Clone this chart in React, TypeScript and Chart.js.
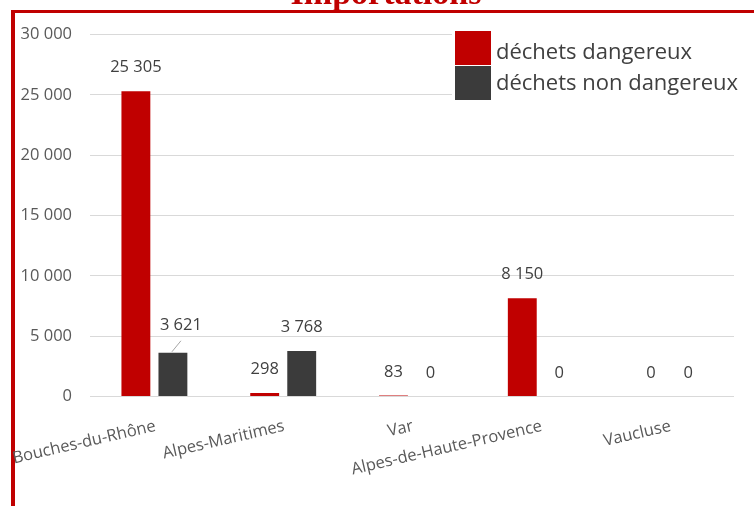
import React, { useEffect, useRef } from "react";
import { Chart, registerables } from "chart.js";

Chart.register(...registerables);

const categories = ["Bouches-du-Rhône", "Alpes-Maritimes", "Var", "Alpes-de-Haute-Provence", "Vaucluse"];
const dangereux = [25305, 298, 83, 8150, 0];
const nonDangereux = [3621, 3768, 0, 0, 0];
const seriesNames = ["déchets dangereux", "déchets non dangereux"];
const seriesColors = ["#C00000", "#3B3B3B"];
const yTicks = [0, 5000, 10000, 15000, 20000, 25000, 30000];
const titleText = "Importations";

const fmt = (v: number) => String(v).replace(/\B(?=(\d{3})+(?!\d))/g, " ");
const FONT = "'Open Sans', 'Liberation Sans', sans-serif";

const decorPlugin = {
  id: "decor",
  beforeDraw(chart: any) {
    const ctx = chart.ctx;
    ctx.save();
    ctx.fillStyle = "#FFFFFF";
    ctx.fillRect(0, 0, chart.width, chart.height);
    ctx.restore();
  },
  afterDraw(chart: any) {
    const ctx = chart.ctx;
    const xScale = chart.scales.x;
    ctx.save();
    // border
    ctx.fillStyle = "#C00000";
    ctx.fillRect(11, 10, 4, chart.height - 10);
    ctx.fillRect(11, 10, chart.width - 11, 3);
    // title (cut off at top)
    ctx.font = `bold 34px 'Liberation Serif', 'DejaVu Serif', serif`;
    ctx.textAlign = "center";
    ctx.textBaseline = "alphabetic";
    ctx.fillStyle = "#C00000";
    ctx.fillText(titleText, 386, 4);
    // x labels
    ctx.font = `16.5px ${FONT}`;
    ctx.fillStyle = "#595959";
    ctx.textAlign = "right";
    ctx.textBaseline = "middle";
    categories.forEach((c, i) => {
      const x = xScale.getPixelForTick(i);
      ctx.save();
      ctx.translate(x + 1, 426);
      ctx.rotate((-13 * Math.PI) / 180);
      ctx.fillText(c, 0, 0);
      ctx.restore();
    });
    // data labels
    ctx.font = `16.5px ${FONT}`;
    ctx.fillStyle = "#404040";
    ctx.textAlign = "center";
    ctx.textBaseline = "middle";
    chart.data.datasets.forEach((ds: any, di: number) => {
      const meta = chart.getDatasetMeta(di);
      meta.data.forEach((el: any, i: number) => {
        const v = ds.data[i];
        if (di === 1 && i === 0) {
          ctx.save();
          ctx.strokeStyle = "#A6A6A6";
          ctx.lineWidth = 1;
          ctx.beginPath();
          ctx.moveTo(el.x - 1, el.y - 1);
          ctx.lineTo(el.x + 8, el.y - 12);
          ctx.stroke();
          ctx.restore();
          ctx.fillText(fmt(v), el.x + 8, el.y - 28);
        } else {
          ctx.fillText(fmt(v), el.x, el.y - 23.5);
        }
      });
    });
    // legend
    ctx.fillStyle = "#FFFFFF";
    ctx.fillRect(452, 28, chart.width - 452, 76);
    seriesNames.forEach((n, i) => {
      ctx.fillStyle = seriesColors[i];
      ctx.fillRect(455, 31 + i * 35, 36, 34);
      ctx.fillStyle = "#404040";
      ctx.font = `22px ${FONT}`;
      ctx.textAlign = "left";
      ctx.textBaseline = "alphabetic";
      ctx.fillText(n, 496, 59 + i * 31);
    });
    ctx.restore();
  },
};

export default function App() {
  const ref = useRef<HTMLCanvasElement | null>(null);
  useEffect(() => {
    document.body.style.margin = "0";
    if (!ref.current) return;
    const chart = new Chart(ref.current, {
      type: "bar",
      data: {
        labels: categories,
        datasets: [
          { label: seriesNames[0], data: dangereux, backgroundColor: seriesColors[0], categoryPercentage: 0.575, barPercentage: 0.78 },
          { label: seriesNames[1], data: nonDangereux, backgroundColor: seriesColors[1], categoryPercentage: 0.575, barPercentage: 0.78 },
        ],
      },
      options: {
        responsive: false,
        animation: false,
        devicePixelRatio: 1,
        layout: { padding: { top: 34.5, right: 20, bottom: 0, left: 0 } },
        plugins: { legend: { display: false }, title: { display: false }, tooltip: { enabled: false } },
        scales: {
          x: {
            grid: { display: false },
            border: { display: false },
            ticks: { display: false },
            afterFit: (s: any) => { s.height = 109.5; },
          },
          y: {
            min: 0,
            max: 30000,
            afterFit: (s: any) => { s.width = 90; },
            afterBuildTicks: (s: any) => { s.ticks = yTicks.map((v) => ({ value: v })); },
            grid: { color: "#D9D9D9", drawTicks: false, lineWidth: 1 },
            border: { display: false },
            ticks: {
              padding: 18,
              color: "#595959",
              font: { family: FONT, size: 16.5 },
              callback: (v: any) => fmt(Number(v)),
            },
          },
        },
      },
      plugins: [decorPlugin],
    });
    return () => chart.destroy();
  }, []);
  return (
    <div style={{ position: "fixed", left: 0, top: 0, width: 754, height: 506 }}>
      <canvas ref={ref} width={754} height={506} style={{ display: "block", width: 754, height: 506 }} />
    </div>
  );
}
